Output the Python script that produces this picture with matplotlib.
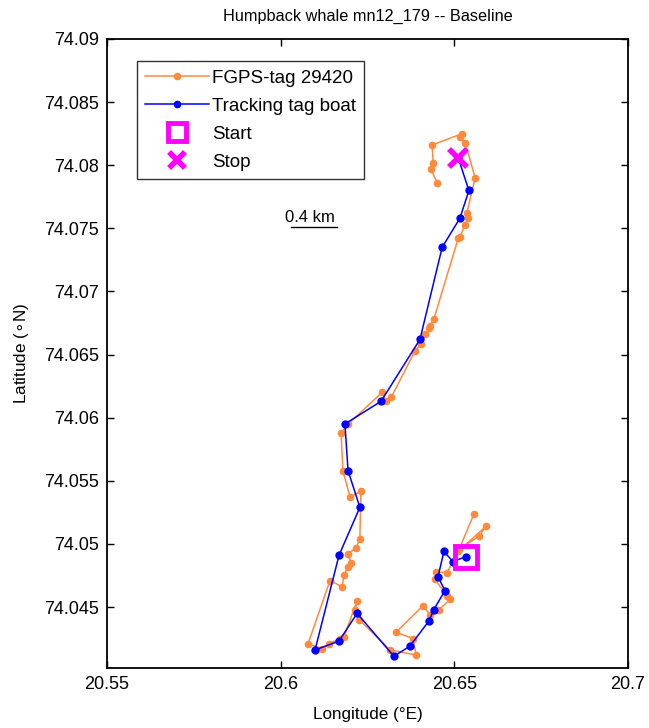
import numpy as np
import matplotlib
matplotlib.use("Agg")
import matplotlib.pyplot as plt

plt.rcParams['font.family'] = ['Liberation Sans', 'DejaVu Sans']

# FGPS-tag 29420 track (lon, lat)
fgps_lon = [20.6557, 20.6511, 20.6591, 20.6571, 20.6513, 20.6479, 20.6447, 20.6444,
            20.6479, 20.6488, 20.6456, 20.6430, 20.6410, 20.6332, 20.6381, 20.6390,
            20.6315, 20.6226, 20.6214, 20.6220, 20.6182, 20.6171, 20.6139, 20.6119,
            20.6079, 20.6142, 20.6177, 20.6182, 20.6194, 20.6203, 20.6194, 20.6217,
            20.6228, 20.6231, 20.6200, 20.6179, 20.6174, 20.6194, 20.6292, 20.6303,
            20.6318, 20.6387, 20.6404, 20.6416, 20.6427, 20.6430, 20.6441, 20.6511,
            20.6516, 20.6531, 20.6539, 20.6536, 20.6560, 20.6531, 20.6516, 20.6522,
            20.6436, 20.6439, 20.6433, 20.6450]
fgps_lat = [74.0524, 74.0494, 74.0514, 74.0506, 74.0496, 74.0477, 74.0478, 74.0472,
            74.0459, 74.0456, 74.0448, 74.0444, 74.0451, 74.0430, 74.0425, 74.0412,
            74.0416, 74.0440, 74.0448, 74.0455, 74.0426, 74.0425, 74.0421, 74.0417,
            74.0421, 74.0471, 74.0466, 74.0475, 74.0482, 74.0485, 74.0492, 74.0497,
            74.0504, 74.0542, 74.0537, 74.0558, 74.0588, 74.0595, 74.0620, 74.0613,
            74.0616, 74.0653, 74.0658, 74.0666, 74.0671, 74.0673, 74.0678, 74.0742,
            74.0743, 74.0753, 74.0758, 74.0762, 74.0790, 74.0818, 74.0822, 74.0825,
            74.0816, 74.0802, 74.0797, 74.0786]

# Tracking tag boat track (lon, lat)
boat_lon = [20.6534, 20.6496, 20.6470, 20.6453, 20.6473, 20.6441, 20.6427, 20.6372,
            20.6326, 20.6220, 20.6168, 20.6099, 20.6168, 20.6228, 20.6194, 20.6185,
            20.6289, 20.6401, 20.6465, 20.6516, 20.6542, 20.6511]
boat_lat = [74.0490, 74.0486, 74.0494, 74.0474, 74.0463, 74.0448, 74.0439, 74.0419,
            74.0411, 74.0445, 74.0423, 74.0416, 74.0491, 74.0529, 74.0558, 74.0595,
            74.0613, 74.0662, 74.0735, 74.0758, 74.0780, 74.0806]

x_ticks = [20.55, 20.6, 20.65, 20.7]
x_ticklabels = ['20.55', '20.6', '20.65', '20.7']
y_ticks = [74.045, 74.05, 74.055, 74.06, 74.065, 74.07, 74.075, 74.08, 74.085, 74.09]
y_ticklabels = ['74.045', '74.05', '74.055', '74.06', '74.065', '74.07', '74.075',
                '74.08', '74.085', '74.09']

scale_km = 0.4

orange = '#FF8A3D'
blue = '#0000FF'
magenta = '#FF00FF'

W, H = 649, 728
fig = plt.figure(figsize=(W / 100, H / 100), dpi=100)
ax = fig.add_axes([107 / W, (H - 668) / H, 521 / W, 629 / H])

ax.plot(fgps_lon, fgps_lat, '-', color=orange, lw=1.1, marker='o', ms=4.5,
        mec=orange, mfc=orange, label='FGPS-tag 29420', zorder=2)
ax.plot(boat_lon, boat_lat, '-', color=blue, lw=1.1, marker='o', ms=5,
        mec=blue, mfc=blue, label='Tracking tag boat', zorder=3)
ax.plot(boat_lon[0], boat_lat[0], linestyle='none', marker='s', ms=16, mfc='none',
        mec=magenta, mew=3.5, label='Start', zorder=4)
ax.plot(boat_lon[-1], boat_lat[-1], linestyle='none', marker='x', ms=13,
        mec=magenta, mew=4, label='Stop', zorder=4)

ax.set_xlim(20.55, 20.7)
ax.set_ylim(74.04017, 74.09)
ax.set_xticks(x_ticks)
ax.set_xticklabels(x_ticklabels)
ax.set_yticks(y_ticks)
ax.set_yticklabels(y_ticklabels)
ax.tick_params(direction='in', length=5, width=1, labelsize=13, top=True, right=True,
               pad=6)
for s in ax.spines.values():
    s.set_linewidth(1.3)

ax.set_xlabel('Longitude (°E)', fontsize=12.3, labelpad=10)
ax.set_ylabel(r'Latitude ($\circ$N)', fontsize=12.3, labelpad=9)
ax.set_title('Humpback whale mn12_179 -- Baseline', fontsize=11.7, pad=13)

# scale bar
lat_mid = 74.065
deg = scale_km / (111.32 * np.cos(np.radians(lat_mid)))
sb_x0, sb_y = 20.6030, 74.0751
ax.plot([sb_x0, sb_x0 + deg], [sb_y, sb_y], color='black', lw=1.0)
ax.text(sb_x0 + deg / 2 - 0.001, sb_y + 0.0002, f'{scale_km} km', ha='center',
        va='bottom', fontsize=12)

leg = ax.legend(loc='upper left', bbox_to_anchor=(30 / 521, (668 - 61) / 629),
                borderaxespad=0, fontsize=13.5, frameon=True, fancybox=False,
                edgecolor='black', handlelength=3.4, handletextpad=0.15,
                labelspacing=0.58, borderpad=0.45, markerscale=1.0)
leg.get_frame().set_linewidth(1.0)
for h in leg.legend_handles:
    if h.get_label() in ('FGPS-tag 29420', 'Tracking tag boat'):
        h.set_markersize(4.5)
    elif h.get_label() == 'Start':
        h.set_markersize(13)
    elif h.get_label() == 'Stop':
        h.set_markersize(12)

fig.savefig('out.png', dpi=100)
